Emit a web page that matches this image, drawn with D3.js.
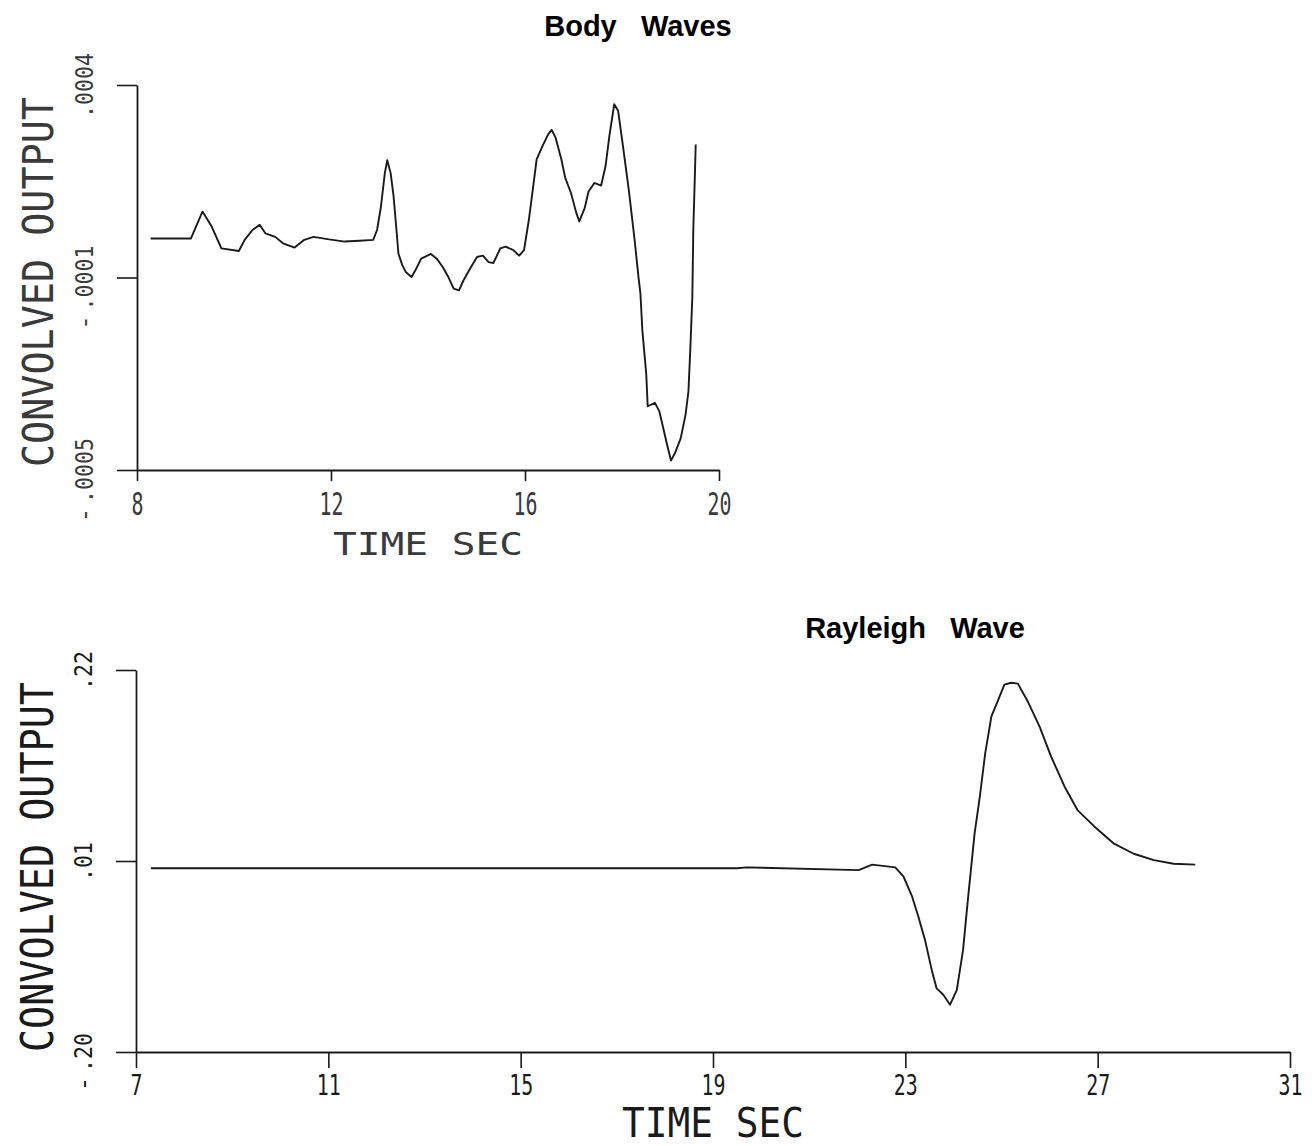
<!DOCTYPE html>
<html>
<head>
<meta charset="utf-8">
<script src="https://cdn.jsdelivr.net/npm/d3@7"></script>
<style>
body { margin: 0; background: #fff; }
svg { display: block; }
</style>
</head>
<body>
<svg id="chart" width="1312" height="1146"></svg>
<script>
// Body waves: output is in units of 1e-4
var bodyTime = [8.28, 9.11, 9.35, 9.54, 9.74, 10.10, 10.22, 10.38, 10.53, 10.65, 10.85, 11.01, 11.25, 11.45, 11.64, 11.96,
  12.28, 12.59, 12.87, 12.95, 13.03, 13.11, 13.16, 13.23, 13.29, 13.35, 13.39, 13.47, 13.54, 13.66, 13.74, 13.86,
  14.06, 14.18, 14.30, 14.42, 14.53, 14.64, 14.73, 14.89, 15.01, 15.13, 15.25, 15.35, 15.49, 15.60, 15.76, 15.88,
  15.98, 16.08, 16.16, 16.24, 16.36, 16.48, 16.55, 16.63, 16.75, 16.83, 16.95, 17.05, 17.12, 17.23, 17.31, 17.43,
  17.57, 17.66, 17.74, 17.84, 17.92, 18.02, 18.14, 18.26, 18.34, 18.38, 18.42, 18.50, 18.53, 18.68, 18.77, 18.85,
  18.93, 19.01, 19.09, 19.21, 19.31, 19.37, 19.41, 19.45, 19.47, 19.50, 19.52];
var bodyOut = [0.41, 0.41, 1.04, 0.69, 0.18, 0.12, 0.38, 0.61, 0.73, 0.53, 0.45, 0.30, 0.20, 0.38, 0.45, 0.39,
  0.34, 0.36, 0.38, 0.61, 1.16, 1.94, 2.24, 1.94, 1.40, 0.61, 0.06, -0.21, -0.37, -0.49, -0.33, -0.06,
  0.05, -0.06, -0.25, -0.49, -0.76, -0.80, -0.57, -0.25, -0.02, 0.01, -0.14, -0.16, 0.18, 0.22, 0.14, 0.01,
  0.14, 0.85, 1.55, 2.26, 2.57, 2.85, 2.95, 2.77, 2.26, 1.83, 1.47, 1.04, 0.81, 1.12, 1.51, 1.71,
  1.65, 2.10, 2.81, 3.55, 3.40, 2.57, 1.55, 0.38, -0.49, -0.88, -1.74, -2.76, -3.51, -3.43, -3.63, -4.02,
  -4.41, -4.78, -4.61, -4.26, -3.71, -3.16, -2.14, -0.96, 0.61, 1.79, 2.61];
var bodyXTicks = [8, 12, 16, 20];
var bodyYTicks = [-5, -0.5, 4];
var bodyYLabels = ["-.0005", "-.0001", ".0004"];

// Rayleigh wave
var rayTime = [7.31, 19.50, 19.70, 22.03, 22.31, 22.79, 22.96, 23.14, 23.27, 23.41, 23.55, 23.65, 23.79, 23.93,
  24.07, 24.20, 24.30, 24.44, 24.55, 24.66, 24.79, 24.93, 25.06, 25.20, 25.34, 25.55, 25.79, 26.03,
  26.31, 26.58, 26.93, 27.34, 27.75, 28.17, 28.58, 29.03];
var rayOut = [0.002, 0.002, 0.003, 0.000, 0.006, 0.003, -0.007, -0.029, -0.051, -0.077, -0.110, -0.130, -0.137, -0.148,
  -0.132, -0.088, -0.033, 0.040, 0.081, 0.128, 0.169, 0.187, 0.204, 0.206, 0.205, 0.185, 0.158, 0.125,
  0.092, 0.066, 0.048, 0.029, 0.018, 0.011, 0.007, 0.006];
var rayXTicks = [7, 11, 15, 19, 23, 27, 31];
var rayYTicks = [-0.20, 0.01, 0.22];
var rayYLabels = ["-.20", ".01", ".22"];

var svg = d3.select('#chart');
var plotFont = '"DejaVu Sans Mono", monospace';
var ink = '#1a1a1a';

function panel(cfg) {
  var x = d3.scaleLinear().domain(cfg.xDomain).range([cfg.left, cfg.right]);
  var y = d3.scaleLinear().domain(cfg.yDomain).range([cfg.bottom, cfg.top]);
  var g = svg.append('g');

  // x axis
  var xa = g.append('g')
    .attr('transform', 'translate(0,' + cfg.bottom + ')')
    .call(d3.axisBottom(x).tickValues(cfg.xTicks).tickSize(cfg.xTickLen).tickSizeOuter(0).tickFormat(d3.format('d')));
  xa.attr('font-family', plotFont).attr('font-size', cfg.xLabelSize);
  xa.select('.domain').attr('stroke', ink).attr('stroke-width', 1.8);
  xa.selectAll('.tick line').attr('stroke', ink).attr('stroke-width', 1.6);
  xa.selectAll('.tick text')
    .attr('y', cfg.xLabelBase)
    .attr('dy', 0)
    .attr('fill', cfg.textInk)
    .attr('textLength', d => String(d).length * 12)
    .attr('lengthAdjust', 'spacingAndGlyphs');

  // y axis, labels rotated like the plotter did
  var ya = g.append('g')
    .attr('transform', 'translate(' + cfg.left + ',0)')
    .call(d3.axisLeft(y).tickValues(cfg.yTicks).tickSize(20).tickSizeOuter(0)
      .tickFormat((d, i) => cfg.yLabels[i].replace('-', '')));
  ya.attr('font-family', plotFont).attr('font-size', 24);
  ya.select('.domain').attr('stroke', ink).attr('stroke-width', 1.8);
  ya.selectAll('.tick line').attr('stroke', ink).attr('stroke-width', 1.6);
  ya.selectAll('.tick text')
    .attr('transform', 'rotate(-90)')
    .attr('x', 0)
    .attr('y', -44)
    .attr('dy', 0)
    .attr('fill', cfg.textInk)
    .attr('text-anchor', 'middle')
    .attr('textLength', function (d, i) { return this.textContent.length * 13; })
    .attr('lengthAdjust', 'spacingAndGlyphs');
  ya.selectAll('.tick').each(function (d, i) {
    var lab = cfg.yLabels[i];
    if (lab.charAt(0) != '-') return;
    var half = (lab.length - 1) * 13 / 2;
    d3.select(this).append('text')
      .attr('transform', 'rotate(-90)')
      .attr('x', -(half + 12))
      .attr('y', -44)
      .attr('fill', cfg.textInk)
      .attr('text-anchor', 'middle')
      .text('-');
  });

  // the trace
  var line = d3.line().x(d => x(d[0])).y(d => y(d[1]));
  g.append('path')
    .datum(d3.zip(cfg.time, cfg.out))
    .attr('fill', 'none')
    .attr('stroke', ink)
    .attr('stroke-width', 1.9)
    .attr('stroke-linejoin', 'round')
    .attr('d', line);

  // axis titles
  g.append('text')
    .attr('x', (cfg.left + cfg.right) / 2)
    .attr('y', cfg.xTitleBase)
    .attr('text-anchor', 'middle')
    .attr('font-family', plotFont)
    .attr('font-size', cfg.xTitleSize)
    .attr('fill', cfg.textInk)
    .attr('textLength', cfg.xTitleLen)
    .attr('lengthAdjust', 'spacingAndGlyphs')
    .text('TIME SEC');

  g.append('text')
    .attr('transform', 'translate(53,' + cfg.yTitleMid + ') rotate(-90)')
    .attr('text-anchor', 'middle')
    .attr('font-family', plotFont)
    .attr('font-size', cfg.yTitleSize)
    .attr('fill', cfg.textInk)
    .attr('textLength', 370)
    .attr('lengthAdjust', 'spacingAndGlyphs')
    .text('CONVOLVED OUTPUT');

  // chart title
  g.append('text')
    .attr('x', cfg.titleX)
    .attr('y', cfg.titleY)
    .attr('text-anchor', 'middle')
    .attr('font-family', '"Liberation Sans", Arial, sans-serif')
    .attr('font-weight', 'bold')
    .attr('font-size', 29)
    .attr('fill', '#000')
    .style('white-space', 'pre')
    .text(cfg.title);
}

panel({
  time: bodyTime, out: bodyOut,
  xDomain: [8, 20], yDomain: [-5, 4],
  xTicks: bodyXTicks, yTicks: bodyYTicks, yLabels: bodyYLabels,
  left: 137, right: 719, top: 85, bottom: 470,
  xTickLen: 11, xLabelBase: 45, xLabelSize: 32,
  xTitleBase: 555, xTitleSize: 32, xTitleLen: 190,
  yTitleMid: 282, yTitleSize: 42, textInk: '#3a3a3a',
  title: 'Body   Waves', titleX: 638, titleY: 36
});

panel({
  time: rayTime, out: rayOut,
  xDomain: [7, 31], yDomain: [-0.20, 0.22],
  xTicks: rayXTicks, yTicks: rayYTicks, yLabels: rayYLabels,
  left: 136, right: 1290, top: 670, bottom: 1052,
  xTickLen: 16, xLabelBase: 43, xLabelSize: 28,
  xTitleBase: 1137, xTitleSize: 40, xTitleLen: 182,
  yTitleMid: 867, yTitleSize: 45, textInk: ink,
  title: 'Rayleigh   Wave', titleX: 915, titleY: 638
});
</script>
</body>
</html>
